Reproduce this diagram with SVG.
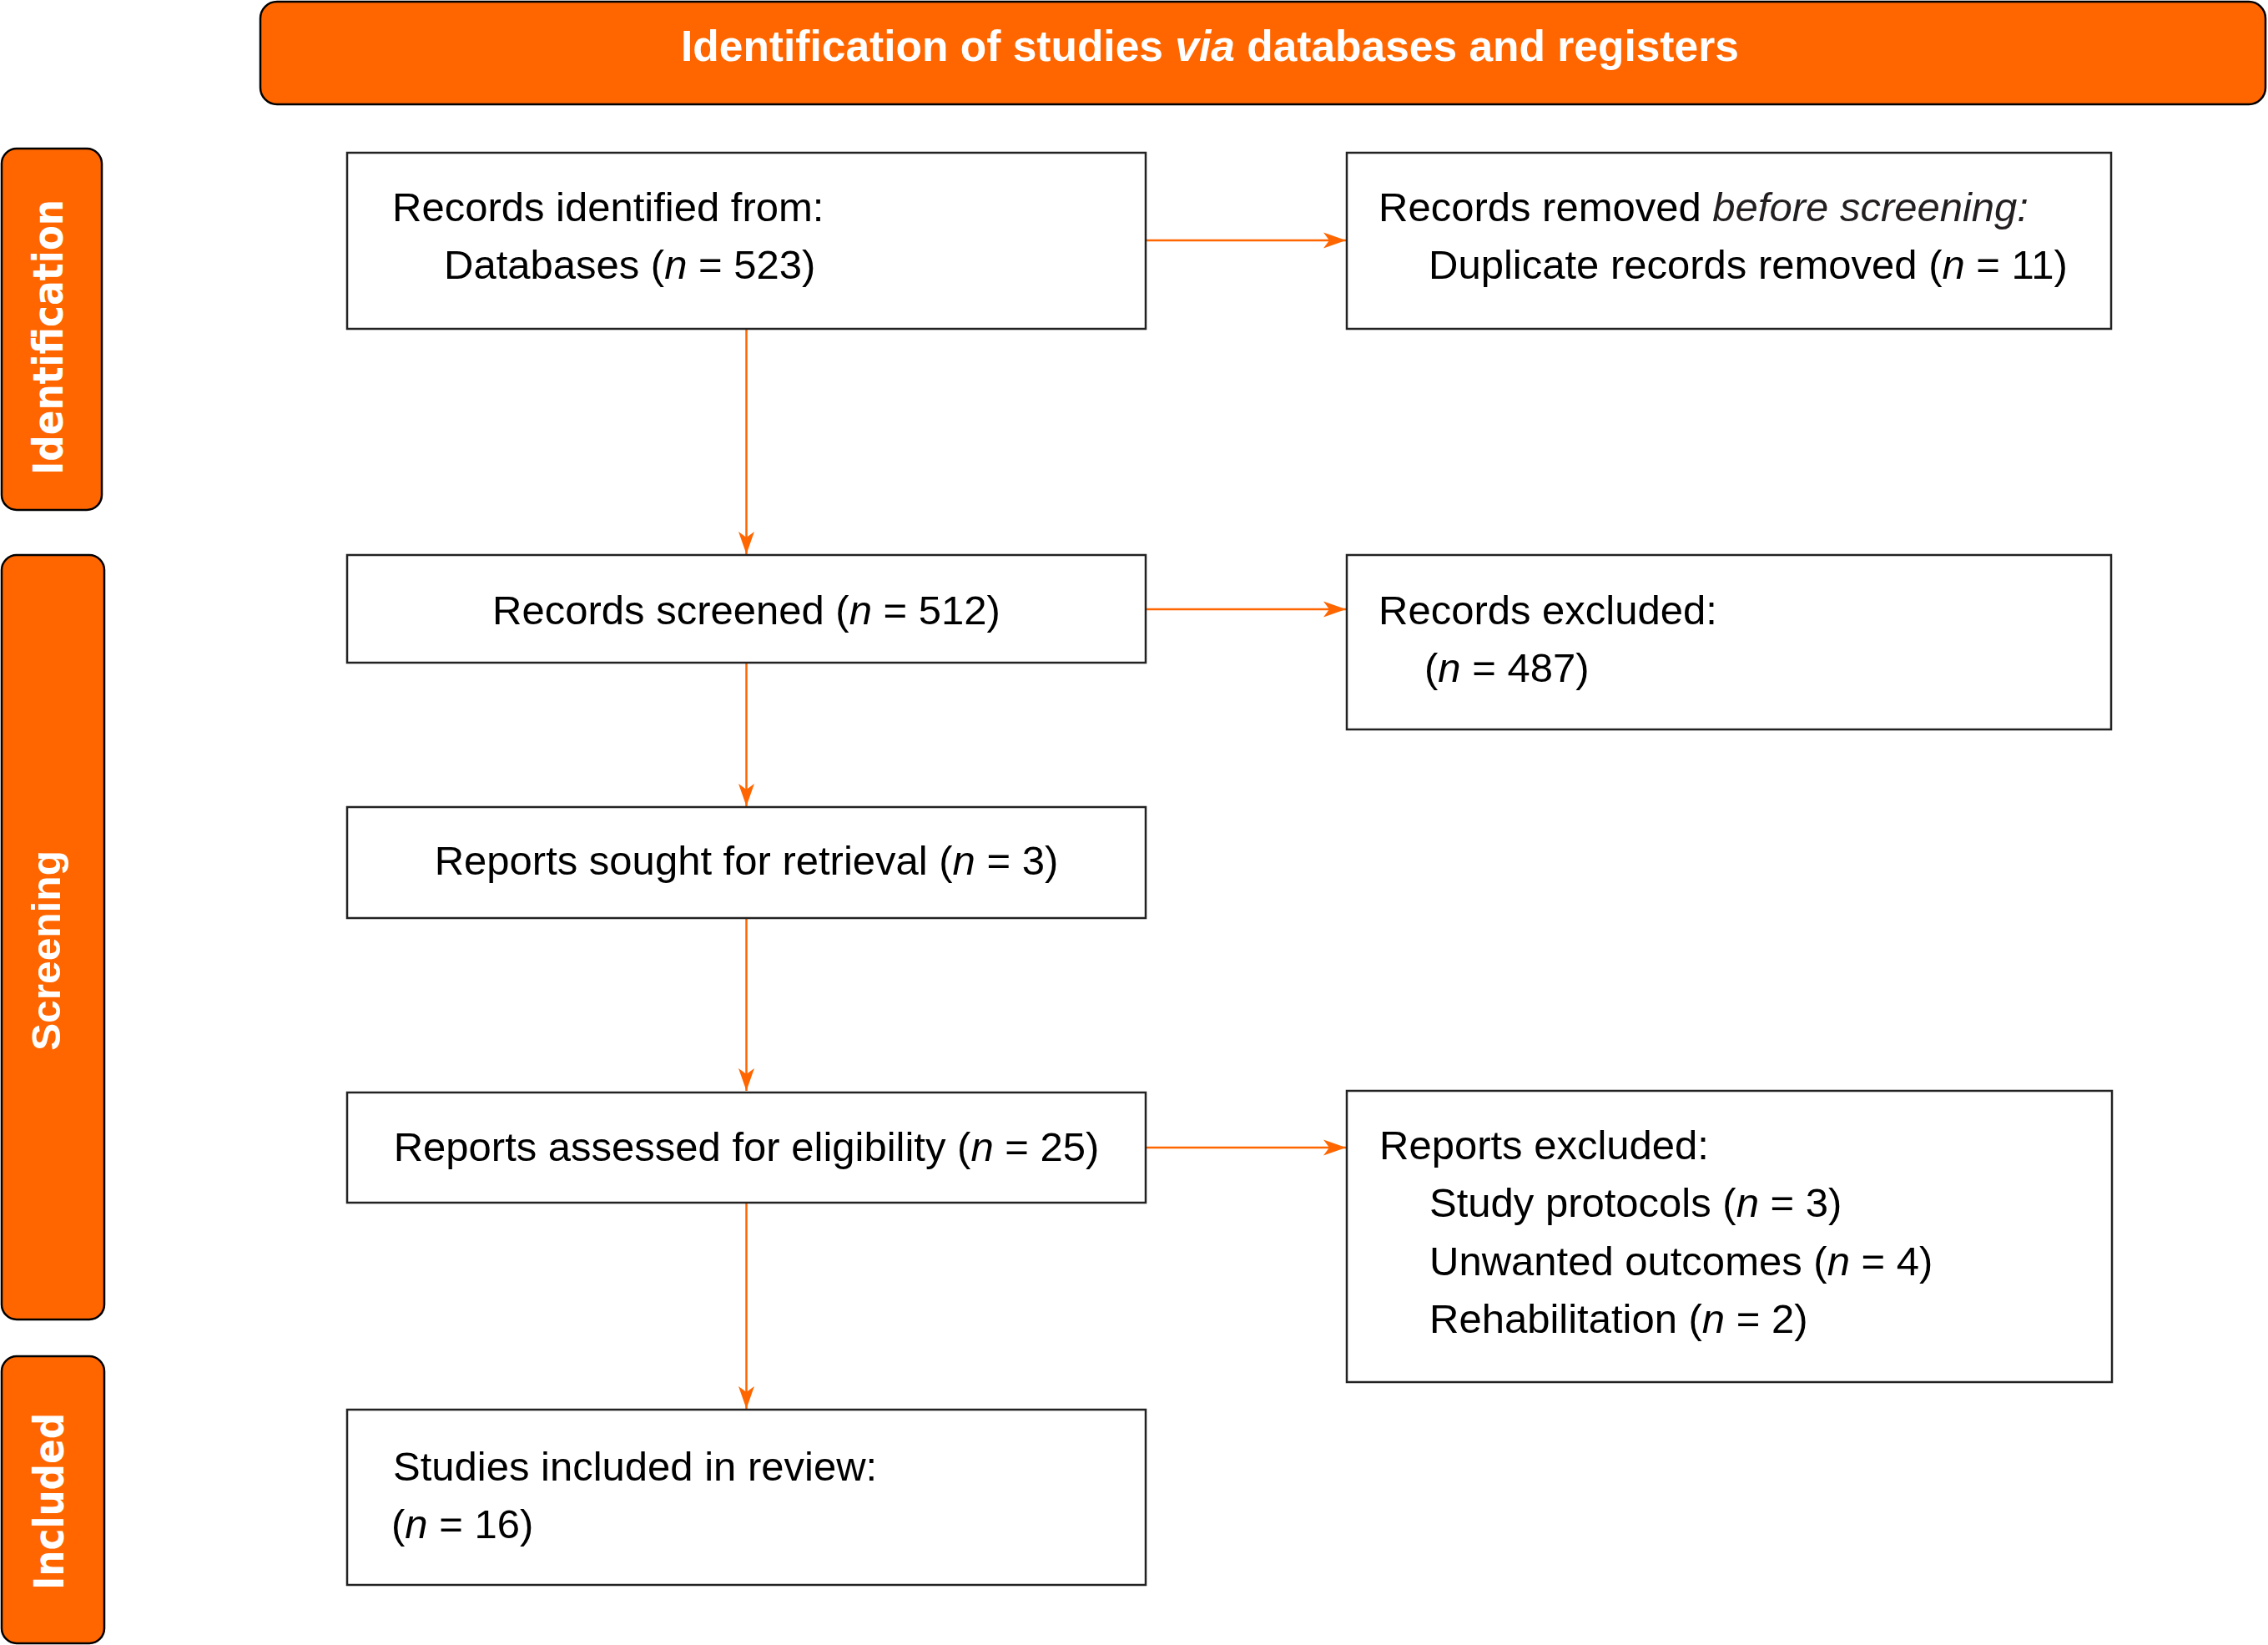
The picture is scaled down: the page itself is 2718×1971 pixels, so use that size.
<svg xmlns="http://www.w3.org/2000/svg" width="2718" height="1971" viewBox="0 0 2718 1971">
<style>
.band{fill:#FF6600;stroke:#000;stroke-width:2.5}
.box{fill:#fff;stroke:#222;stroke-width:2.5}
.t{font-family:"Liberation Sans",Arial,sans-serif;font-size:49px;fill:#000}
.title{font-family:"Liberation Sans",Arial,sans-serif;font-size:51.5px;font-weight:bold;fill:#fff}
.side{font-family:"DejaVu Sans",Verdana,sans-serif;font-size:50px;font-weight:bold;fill:#fff}
.side2{font-family:"Liberation Sans",Arial,sans-serif;font-size:48px;font-weight:bold;fill:#fff}
.conn{stroke:#FF6600;stroke-width:2.5;fill:none}
.i{font-style:italic}
</style>
<defs>
<marker id="ah" markerUnits="userSpaceOnUse" markerWidth="28" markerHeight="20" refX="27" refY="10" orient="auto">
<path d="M0,0.5 L27,10 L0,19.5 L7,10 Z" fill="#FF6600"/>
</marker>
</defs>
<rect width="2718" height="1971" fill="#fff"/>

<g id="header">
<rect class="band" x="312" y="2" width="2403" height="123" rx="20" ry="20"/>
<text class="title" x="816" y="73">Identification of studies <tspan class="i">via</tspan> databases and registers</text>
</g>

<g id="label-identification">
<rect class="band" x="2" y="178" width="120" height="433" rx="18" ry="18"/>
<text class="side" transform="translate(75,404) rotate(-90)" text-anchor="middle" textLength="330" lengthAdjust="spacingAndGlyphs">Identification</text>
</g>
<g id="label-screening">
<rect class="band" x="2" y="665" width="123" height="916" rx="18" ry="18"/>
<text class="side2" transform="translate(72,1139) rotate(-90)" text-anchor="middle" textLength="240" lengthAdjust="spacingAndGlyphs">Screening</text>
</g>
<g id="label-included">
<rect class="band" x="2" y="1625" width="123" height="344" rx="18" ry="18"/>
<text class="side" transform="translate(76,1799) rotate(-90)" text-anchor="middle" textLength="212" lengthAdjust="spacingAndGlyphs">Included</text>
</g>

<g id="connectors">
<line class="conn" x1="1373" y1="288" x2="1613" y2="288" marker-end="url(#ah)"/>
<line class="conn" x1="1373" y1="730" x2="1613" y2="730" marker-end="url(#ah)"/>
<line class="conn" x1="1373" y1="1375" x2="1613" y2="1375" marker-end="url(#ah)"/>
<line class="conn" x1="894.5" y1="394" x2="894.5" y2="664" marker-end="url(#ah)"/>
<line class="conn" x1="894.5" y1="794" x2="894.5" y2="966" marker-end="url(#ah)"/>
<line class="conn" x1="894.5" y1="1100" x2="894.5" y2="1307" marker-end="url(#ah)"/>
<line class="conn" x1="894.5" y1="1441" x2="894.5" y2="1688" marker-end="url(#ah)"/>
</g>

<g id="records-identified">
<rect class="box" x="416" y="183" width="957" height="211"/>
<text class="t" x="470" y="265">Records identified from:</text>
<text class="t" x="532" y="334">Databases (<tspan class="i">n</tspan> = 523)</text>
</g>

<g id="records-removed">
<rect class="box" x="1614" y="183" width="916" height="211"/>
<text class="t" x="1652" y="265">Records removed <tspan class="i" fill="#231F20">before screening:</tspan></text>
<text class="t" x="1712" y="334">Duplicate records removed (<tspan class="i">n</tspan> = 11)</text>
</g>

<g id="records-screened">
<rect class="box" x="416" y="665" width="957" height="129"/>
<text class="t" x="894.5" y="748" text-anchor="middle">Records screened (<tspan class="i">n</tspan> = 512)</text>
</g>

<g id="records-excluded">
<rect class="box" x="1614" y="665" width="916" height="209"/>
<text class="t" x="1652" y="748">Records excluded:</text>
<text class="t" x="1707" y="817">(<tspan class="i">n</tspan> = 487)</text>
</g>

<g id="reports-sought">
<rect class="box" x="416" y="967" width="957" height="133"/>
<text class="t" x="894.5" y="1048" text-anchor="middle">Reports sought for retrieval (<tspan class="i">n</tspan> = 3)</text>
</g>

<g id="reports-assessed">
<rect class="box" x="416" y="1309" width="957" height="132"/>
<text class="t" x="894.5" y="1391" text-anchor="middle">Reports assessed for eligibility (<tspan class="i">n</tspan> = 25)</text>
</g>

<g id="reports-excluded">
<rect class="box" x="1614" y="1307" width="917" height="349"/>
<text class="t" x="1653" y="1389">Reports excluded:</text>
<text class="t" x="1713" y="1458">Study protocols (<tspan class="i">n</tspan> = 3)</text>
<text class="t" x="1713" y="1528">Unwanted outcomes (<tspan class="i">n</tspan> = 4)</text>
<text class="t" x="1713" y="1597">Rehabilitation (<tspan class="i">n</tspan> = 2)</text>
</g>

<g id="studies-included">
<rect class="box" x="416" y="1689" width="957" height="210"/>
<text class="t" x="471" y="1774">Studies included in review:</text>
<text class="t" x="469" y="1843">(<tspan class="i">n</tspan> = 16)</text>
</g>
</svg>
